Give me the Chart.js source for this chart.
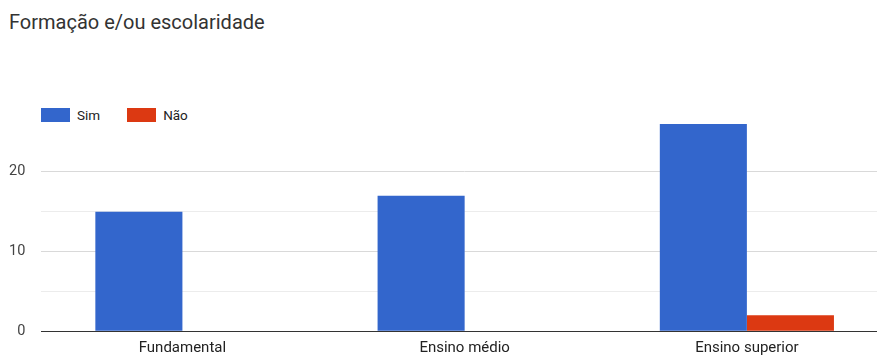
<!DOCTYPE html>
<html>
<head>
<meta charset="utf-8">
<script src="https://cdn.jsdelivr.net/npm/chart.js@4"></script>
<style>
  html, body { margin: 0; padding: 0; background: #fff; overflow: hidden; }
  body { width: 877px; height: 356px; position: relative; font-family: Roboto, Arial, sans-serif; }
  .titulo { position: absolute; left: 9px; top: 10px; font-size: 20px; color: #333; }
  .legenda { position: absolute; left: 41px; top: 107px; display: flex; font-size: 13.5px; color: #222; }
  .legenda span.item { display: flex; align-items: center; margin-right: 27px; }
  .legenda span.caixa { display: inline-block; width: 29px; height: 14px; margin-right: 7px; }
  .canvaContainer { position: absolute; left: 0; top: 0; width: 888px; height: 356px; }
</style>
</head>
<body>
<div class="titulo">Formação e/ou escolaridade</div>
<div class="legenda" id="legenda"></div>
<div class="canvaContainer"><canvas id="grafico" width="888" height="356"></canvas></div>
<script>
const categorias = ["Fundamental", "Ensino médio", "Ensino superior"]
const sim = [15, 17, 26]
const nao = [0, 0, 2]
const nomesSeries = ["Sim", "Não"]
const cores = ["#3366cc", "#dc3912"]

const context = document.getElementById("grafico").getContext("2d")
const grafico = new Chart(context, {
    type: "bar",
    data: {
        labels: categorias,
        datasets: [
            { label: nomesSeries[0], data: sim, backgroundColor: cores[0] },
            { label: nomesSeries[1], data: nao, backgroundColor: cores[1] }
        ]
    },
    options: {
        responsive: false,
        animation: false,
        categoryPercentage: 0.617,
        barPercentage: 1,
        layout: { padding: { left: -7, right: 0, top: 124, bottom: -12 } },
        scales: {
            x: {
                grid: { display: false, drawTicks: false },
                border: { color: "#333", width: 1 },
                ticks: { font: { family: "Roboto", size: 15 }, color: "#222", padding: 8 }
            },
            y: {
                min: 0,
                max: 26,
                afterBuildTicks: (axis) => {
                    axis.ticks = axis.ticks.filter(t => t.value % 5 === 0)
                },
                ticks: {
                    stepSize: 5,
                    font: { family: "Roboto", size: 14.5 },
                    color: "#444",
                    padding: 16,
                    callback: (v) => (v % 10 === 0 ? v : "")
                },
                grid: {
                    drawTicks: false,
                    color: (c) => {
                        if (c.tick.value === 0) return "rgba(0,0,0,0)"
                        return c.tick.value % 10 === 0 ? "#d9d9d9" : "#ececec"
                    }
                },
                border: { display: false }
            }
        },
        plugins: {
            legend: { display: false },
            tooltip: { enabled: false }
        }
    }
})

// legenda em HTML a partir dos datasets
const legenda = document.getElementById("legenda")
grafico.data.datasets.forEach(ds => {
    const item = document.createElement("span")
    item.className = "item"
    const caixa = document.createElement("span")
    caixa.className = "caixa"
    caixa.style.background = ds.backgroundColor
    item.appendChild(caixa)
    item.appendChild(document.createTextNode(ds.label))
    legenda.appendChild(item)
})
</script>
</body>
</html>
